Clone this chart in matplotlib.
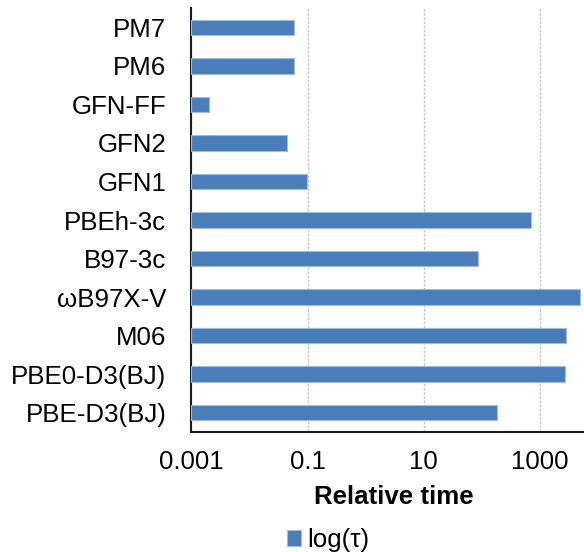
import matplotlib
matplotlib.use("Agg")
import matplotlib.pyplot as plt

plt.rcParams['font.family'] = ['Liberation Sans', 'DejaVu Sans']

methods = ["PBE-D3(BJ)", "PBE0-D3(BJ)", "M06", "ωB97X-V", "B97-3c", "PBEh-3c",
           "GFN1", "GFN2", "GFN-FF", "PM6", "PM7"]
rel_time = [183, 2670, 2810, 4830, 86, 703, 0.099, 0.044, 0.0020, 0.059, 0.059]
xticks = [0.001, 0.1, 10, 1000]
xtick_labels = ["0.001", "0.1", "10", "1000"]
series_name = "log(τ)"

W, H = 584, 552
fig = plt.figure(figsize=(W / 100, H / 100), dpi=100)
left, right = 191.3, 598.0
top, bottom = 8.0, 432.0
ax = fig.add_axes([left / W, 1 - bottom / H, (right - left) / W, (bottom - top) / H])

base = 0.001
bars = ax.barh(methods, [v - base for v in rel_time], height=0.4, left=base,
               color="#4a7ebb", edgecolor="#9fbbe0", linewidth=0.8,
               label=series_name, zorder=3)
ax.set_xscale("log")
ax.set_xlim(0.001, 10000)
ax.set_ylim(-0.5, len(methods) - 0.5)
ax.set_xticks(xticks)
ax.set_xticklabels(xtick_labels)
ax.minorticks_off()
ax.xaxis.grid(True, color="#c8c8c8", linestyle=(0, (2, 1)), linewidth=1.0, zorder=0)
ax.set_axisbelow(True)

for s in ["top", "right"]:
    ax.spines[s].set_visible(False)
for s in ["left", "bottom"]:
    ax.spines[s].set_color("#1a1a1a")
    ax.spines[s].set_linewidth(1.5)

fs = 18.6
ax.tick_params(axis="y", length=0, pad=18, labelsize=fs, colors="#000000")
ax.tick_params(axis="x", length=0, pad=13, labelsize=fs, colors="#000000")

ax.set_xlabel("Relative time", fontsize=fs, fontweight="bold")
ax.xaxis.set_label_coords((394 - left) / (right - left), -(497 - bottom) / (bottom - top))
ax.xaxis.label.set_verticalalignment("center")

fig.legend(handles=[bars], labels=[series_name], loc="center",
           bbox_to_anchor=(328 / W, 1 - 540 / H), frameon=False, fontsize=fs,
           handlelength=0.55, handleheight=0.55, handletextpad=0.25)

fig.savefig("out.png", dpi=100)
